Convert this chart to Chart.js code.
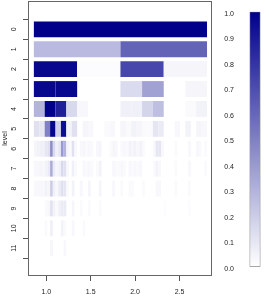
<!DOCTYPE html>
<html>
<head>
<meta charset="utf-8">
<script src="https://cdn.jsdelivr.net/npm/chart.js@4.4.0/dist/chart.umd.min.js"></script>
<style>
  body { margin: 0; background: #fff; }
  #wrap { position: relative; width: 269px; height: 306px; }
  #heat { position: absolute; left: 0; top: 0; }
  #key { position: absolute; left: 215px; top: 0; }
</style>
</head>
<body>
<div id="wrap">
  <canvas id="heat" width="269" height="306"></canvas>
  <canvas id="key" width="54" height="306"></canvas>
</div>
<script>
// values per level (levels 7-11 binned to 64 columns)
var levels = [0, 1, 2, 3, 4, 5, 6, 7, 8, 9, 10, 11];
var level0 = [1.0];
var level1 = [0.27, 0.61];
var level2 = [0.97, 0.01, 0.72, 0.04];
var level3 = [0.97, 0.97, 0, 0, 0.14, 0.37, 0, 0.04];
var level4 = [0.3, 1.0, 0.88, 0.15, 0.03, 0, 0, 0, 0.06, 0.06, 0.17, 0.25, 0, 0, 0.02, 0.05];
var level5 = [0.12, 0.1, 0.5, 0.98, 0.18, 0.95, 0.05, 0.12, 0, 0.04, 0.03, 0, 0, 0.02, 0.03, 0,
              0.04, 0.02, 0.05, 0.04, 0.02, 0.02, 0.1, 0.08, 0, 0, 0.03, 0, 0.05, 0, 0.04, 0.03];
var level6 = [0.04, 0.05, 0.06, 0.06, 0.1, 0.12, 0.45, 0.15, 0.06, 0.1, 0.4, 0.3, 0.04, 0.02, 0.12, 0.03,
              0, 0.03, 0.04, 0.02, 0.03, 0.02, 0, 0.03, 0.04, 0, 0, 0, 0.02, 0.04, 0.03, 0,
              0.02, 0.03, 0.02, 0.05, 0.04, 0.05, 0.03, 0.05, 0.02, 0, 0, 0, 0.03, 0.1, 0.1, 0.03,
              0, 0, 0, 0, 0.02, 0, 0, 0, 0, 0.03, 0, 0, 0.03, 0.02, 0, 0.02];
var level7 = [0.03, 0.03, 0.04, 0.03, 0.05, 0.08, 0.33, 0.08, 0.04, 0.06, 0.15, 0.12, 0.03, 0, 0.06, 0.02,
              0, 0, 0.03, 0.02, 0.03, 0.02, 0, 0.02, 0.05, 0, 0, 0, 0, 0.03, 0.02, 0.02,
              0.03, 0.02, 0, 0.03, 0.02, 0.03, 0.02, 0.03, 0, 0, 0, 0, 0.02, 0.05, 0.03, 0,
              0, 0, 0, 0, 0.02, 0, 0, 0, 0, 0.03, 0, 0, 0, 0, 0, 0.02];
var level8 = [0.03, 0.03, 0.03, 0.03, 0.05, 0.04, 0.2, 0.06, 0.03, 0.08, 0.12, 0.1, 0.02, 0, 0.05, 0,
              0, 0.03, 0, 0, 0.04, 0, 0, 0, 0.04, 0, 0, 0, 0, 0.03, 0, 0,
              0.02, 0, 0, 0.02, 0.02, 0, 0, 0, 0.02, 0, 0, 0, 0, 0.03, 0.03, 0,
              0, 0, 0, 0, 0.02, 0, 0, 0, 0, 0.02, 0, 0, 0, 0, 0, 0];
var level9 = [0, 0, 0, 0, 0.02, 0.03, 0.12, 0.05, 0.02, 0.06, 0.08, 0.08, 0, 0, 0.04, 0,
              0, 0.02, 0, 0, 0.02, 0, 0, 0, 0.02, 0, 0, 0, 0, 0, 0, 0,
              0, 0, 0, 0, 0, 0, 0, 0, 0, 0, 0, 0, 0, 0, 0, 0,
              0.01, 0, 0, 0, 0, 0, 0, 0, 0, 0.01, 0, 0, 0, 0, 0, 0];
var level10 = [0, 0, 0, 0, 0.02, 0, 0.06, 0, 0, 0, 0.05, 0.02, 0, 0, 0.03, 0,
               0, 0, 0.02, 0, 0, 0, 0, 0, 0, 0, 0, 0, 0, 0, 0, 0,
               0, 0, 0, 0, 0, 0, 0, 0, 0, 0, 0, 0, 0, 0, 0, 0,
               0, 0, 0, 0, 0, 0, 0, 0, 0, 0, 0, 0, 0, 0, 0, 0];
var level11 = [0, 0, 0, 0, 0, 0, 0.04, 0, 0, 0, 0, 0.03, 0, 0, 0, 0,
               0, 0, 0, 0, 0, 0, 0, 0, 0, 0, 0, 0, 0, 0, 0, 0,
               0, 0, 0, 0, 0, 0, 0, 0, 0, 0, 0, 0, 0, 0, 0, 0,
               0, 0, 0, 0, 0, 0, 0, 0, 0, 0, 0, 0, 0, 0, 0, 0];

var xRange = [0.86, 2.81];   // span every level covers
var xTicks = [1.0, 1.5, 2.0, 2.5];
var keyRange = [0, 1];
var keyTicks = [0, 0.1, 0.2, 0.3, 0.4, 0.5, 0.6, 0.7, 0.8, 0.9, 1.0];

var allLevels = [level0, level1, level2, level3, level4, level5, level6,
                 level7, level8, level9, level10, level11];

Chart.defaults.font.family = '"Liberation Sans", Arial, sans-serif';
Chart.defaults.font.size = 7;
Chart.defaults.color = '#222';

function shade(v) {
  var r = Math.round(255 * (1 - v));
  var b = Math.round(255 - 116 * v);
  return 'rgb(' + r + ',' + r + ',' + b + ')';
}

var cells = [];
allLevels.forEach(function(vals, i) {
  var w = (xRange[1] - xRange[0]) / vals.length;
  vals.forEach(function(v, k) {
    if (v > 0) cells.push({ x: [xRange[0] + k * w, xRange[0] + (k + 1) * w], y: levels[i], v: v });
  });
});

var frame = {
  id: 'frame',
  afterDatasetsDraw: function(chart) {
    var a = chart.chartArea, c = chart.ctx;
    c.save();
    c.strokeStyle = '#666';
    c.lineWidth = 1;
    c.strokeRect(a.left + 0.5, a.top + 0.5, a.right - a.left - 1, a.bottom - a.top - 1);
    c.restore();
  }
};

new Chart(document.getElementById('heat'), {
  type: 'bar',
  data: {
    datasets: [{
      data: cells,
      backgroundColor: function(ctx) { return shade(ctx.raw ? ctx.raw.v : 0); },
      borderWidth: 0,
      grouped: false,
      barPercentage: 0.8,
      categoryPercentage: 1
    }]
  },
  options: {
    indexAxis: 'y',
    responsive: false,
    animation: false,
    layout: { padding: { top: 1, right: 57, left: 0, bottom: 0 } },
    plugins: { legend: { display: false }, tooltip: { enabled: false } },
    scales: {
      x: {
        type: 'linear',
        min: 0.794,
        max: 2.866,
        afterBuildTicks: function(s) { s.ticks = xTicks.map(function(v) { return { value: v }; }); },
        afterFit: function(s) { s.height = 30; s.paddingLeft = 0; s.paddingRight = 0; },
        ticks: { callback: function(v) { return Number(v).toFixed(1); }, padding: 6.5, maxRotation: 0 },
        grid: { drawOnChartArea: false, tickLength: 5, color: '#555' },
        border: { display: false }
      },
      y: {
        type: 'linear',
        reverse: true,
        min: -0.85,
        max: 11.82,
        afterBuildTicks: function(s) { s.ticks = levels.map(function(v) { return { value: v }; }); },
        afterFit: function(s) { s.width = 28; s.paddingTop = 0; s.paddingBottom = 0; },
        ticks: { minRotation: 90, maxRotation: 90, crossAlign: 'center', padding: 5 },
        grid: { drawOnChartArea: false, tickLength: 5, color: '#555' },
        border: { display: false },
        title: { display: true, text: 'level', padding: { top: 1, bottom: 0 } }
      }
    }
  },
  plugins: [frame]
});

function keyFill(ctx) {
  var ch = ctx.chart;
  if (!ch.chartArea) return shade(0.5);
  var y = ch.scales.y;
  var g = ch.ctx.createLinearGradient(0, y.getPixelForValue(keyRange[0]), 0, y.getPixelForValue(keyRange[1]));
  g.addColorStop(0, shade(keyRange[0]));
  g.addColorStop(1, shade(keyRange[1]));
  return g;
}

new Chart(document.getElementById('key'), {
  type: 'bar',
  data: {
    labels: [''],
    datasets: [{
      data: [keyRange],
      backgroundColor: keyFill,
      borderColor: '#888',
      borderWidth: 1,
      borderSkipped: false,
      barPercentage: 1,
      categoryPercentage: 1
    }]
  },
  options: {
    responsive: false,
    animation: false,
    layout: { padding: { top: 11.7, right: 8.5, left: 0, bottom: 39.3 } },
    plugins: { legend: { display: false }, tooltip: { enabled: false } },
    scales: {
      x: { display: false },
      y: {
        min: 0,
        max: 1,
        afterBuildTicks: function(s) { s.ticks = keyTicks.map(function(v) { return { value: v }; }); },
        afterFit: function(s) { s.width = 34.5; s.paddingTop = 0; s.paddingBottom = 0; },
        ticks: { callback: function(v) { return Number(v).toFixed(1); }, padding: 7.5, labelOffset: 2 },
        grid: { display: false },
        border: { display: false }
      }
    }
  }
});
</script>
</body>
</html>
